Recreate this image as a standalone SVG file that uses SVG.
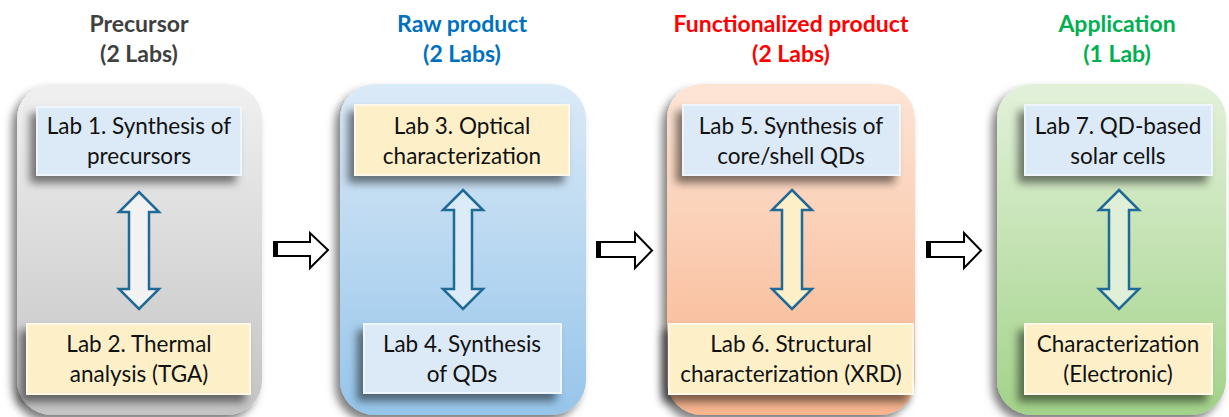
<svg xmlns="http://www.w3.org/2000/svg" width="1229" height="417" viewBox="0 0 1229 417">
<style>
.hdr{font-family:Lato,"Open Sans","Liberation Sans",sans-serif;font-weight:bold;font-size:23px;text-anchor:middle}
.lbl{font-family:Lato,"Open Sans","Liberation Sans",sans-serif;font-size:22.5px;text-anchor:middle;fill:#111}
.boxB{fill:#dce9f6;stroke:#eef5fb;stroke-width:2}
.boxY{fill:#fdf0c9;stroke:#fff8e6;stroke-width:2}
.dbl{stroke:#1f6a96;stroke-width:2.5;stroke-linejoin:miter}
.blk{fill:#fff;stroke:#000;stroke-width:2;stroke-linejoin:miter}
</style>
<defs>
<linearGradient id="gGray" x1="0" y1="0" x2="0" y2="1"><stop offset="0" stop-color="#f0f0f0"/><stop offset="1" stop-color="#c4c4c4"/></linearGradient>
<linearGradient id="gBlue" x1="0" y1="0" x2="0" y2="1"><stop offset="0" stop-color="#dbeaf7"/><stop offset="1" stop-color="#96c5ea"/></linearGradient>
<linearGradient id="gOr" x1="0" y1="0" x2="0" y2="1"><stop offset="0" stop-color="#fde5d6"/><stop offset="1" stop-color="#f8b48d"/></linearGradient>
<linearGradient id="gGr" x1="0" y1="0" x2="0" y2="1"><stop offset="0" stop-color="#e3f1da"/><stop offset="1" stop-color="#a3d38a"/></linearGradient>
<filter id="sh" x="-20%" y="-20%" width="140%" height="140%"><feDropShadow dx="-5" dy="6" stdDeviation="4" flood-color="#000" flood-opacity="0.5"/></filter>
<filter id="shb" x="-20%" y="-30%" width="140%" height="170%"><feDropShadow dx="-6" dy="7" stdDeviation="4" flood-color="#000" flood-opacity="0.5"/></filter>
</defs>

<g id="headers">
<text class="hdr" x="139" y="32" fill="#404040">Precursor</text>
<text class="hdr" x="139" y="62" fill="#404040">(2 Labs)</text>
<text class="hdr" x="462" y="32" fill="#0070c0">Raw product</text>
<text class="hdr" x="462" y="62" fill="#0070c0">(2 Labs)</text>
<text class="hdr" x="791" y="32" fill="#ff0000">Functionalized product</text>
<text class="hdr" x="791" y="62" fill="#ff0000">(2 Labs)</text>
<text class="hdr" x="1117" y="32" fill="#00b050">Application</text>
<text class="hdr" x="1117" y="62" fill="#00b050">(1 Lab)</text>
</g>

<g id="panel1">
<rect x="17" y="84" width="245" height="331" rx="35" fill="url(#gGray)" filter="url(#sh)"/>
</g>
<g id="panel2">
<rect x="340" y="84" width="246" height="331" rx="35" fill="url(#gBlue)" filter="url(#sh)"/>
</g>
<g id="panel3">
<rect x="667" y="84" width="248" height="331" rx="35" fill="url(#gOr)" filter="url(#sh)"/>
</g>
<g id="panel4">
<rect x="997" y="84" width="229" height="331" rx="35" fill="url(#gGr)" filter="url(#sh)"/>
</g>

<g id="lab1">
<rect class="boxB" x="37" y="107" width="204" height="68" filter="url(#shb)"/>
<text class="lbl" x="139" y="134">Lab 1. Synthesis of</text>
<text class="lbl" x="139" y="164">precursors</text>
</g>
<g id="lab2">
<rect class="boxY" x="27" y="324" width="223" height="70" filter="url(#shb)"/>
<text class="lbl" x="139" y="352">Lab 2. Thermal</text>
<text class="lbl" x="139" y="382">analysis (TGA)</text>
</g>
<g id="lab3">
<rect class="boxY" x="355" y="105" width="214" height="70" filter="url(#shb)"/>
<text class="lbl" x="462" y="134">Lab 3. Optical</text>
<text class="lbl" x="462" y="164">characterization</text>
</g>
<g id="lab4">
<rect class="boxB" x="364" y="324" width="197" height="69" filter="url(#shb)"/>
<text class="lbl" x="462" y="352">Lab 4. Synthesis</text>
<text class="lbl" x="462" y="382">of QDs</text>
</g>
<g id="lab5">
<rect class="boxB" x="683" y="105" width="217" height="70" filter="url(#shb)"/>
<text class="lbl" x="791" y="134">Lab 5. Synthesis of</text>
<text class="lbl" x="791" y="164">core/shell QDs</text>
</g>
<g id="lab6">
<rect class="boxY" x="669" y="324" width="244" height="70" filter="url(#shb)"/>
<text class="lbl" x="791" y="352">Lab 6. Structural</text>
<text class="lbl" x="791" y="382">characterization (XRD)</text>
</g>
<g id="lab7">
<rect class="boxB" x="1025" y="105" width="187" height="70" filter="url(#shb)"/>
<text class="lbl" x="1118" y="134">Lab 7. QD-based</text>
<text class="lbl" x="1118" y="164">solar cells</text>
</g>
<g id="lab8">
<rect class="boxY" x="1025" y="324" width="187" height="70" filter="url(#shb)"/>
<text class="lbl" x="1118" y="352">Characterization</text>
<text class="lbl" x="1118" y="382">(Electronic)</text>
</g>

<g id="connectors">
<path class="dbl" fill="#f2f2f2" d="M139,192 L159,212 L149,212 L149,289 L159,289 L139,309 L119,289 L129,289 L129,212 L119,212 Z"/>
<path class="dbl" fill="#dcebf8" d="M463,190 L483,210 L472,210 L472,289 L483,289 L463,309 L443,289 L454,289 L454,210 L443,210 Z"/>
<path class="dbl" fill="#fdf0c9" d="M792,190 L812,210 L802,210 L802,289 L812,289 L792,309 L772,289 L782,289 L782,210 L772,210 Z"/>
<path class="dbl" fill="#e0f0d8" d="M1119,190 L1139,210 L1129,210 L1129,289 L1139,289 L1119,309 L1099,289 L1109,289 L1109,210 L1099,210 Z"/>
<path class="blk" d="M274,242 L310,242 L310,233 L328,250 L310,268 L310,256 L274,256 Z"/>
<rect x="273" y="241" width="5" height="16" fill="#000"/>
<path class="blk" d="M597,242 L635,242 L635,233 L652,250.5 L635,268 L635,257 L597,257 Z"/>
<rect x="596" y="241" width="5" height="17" fill="#000"/>
<path class="blk" d="M927,242 L964,242 L964,233 L981,250.5 L964,268 L964,257 L927,257 Z"/>
<rect x="926" y="241" width="5" height="17" fill="#000"/>
</g>
</svg>
